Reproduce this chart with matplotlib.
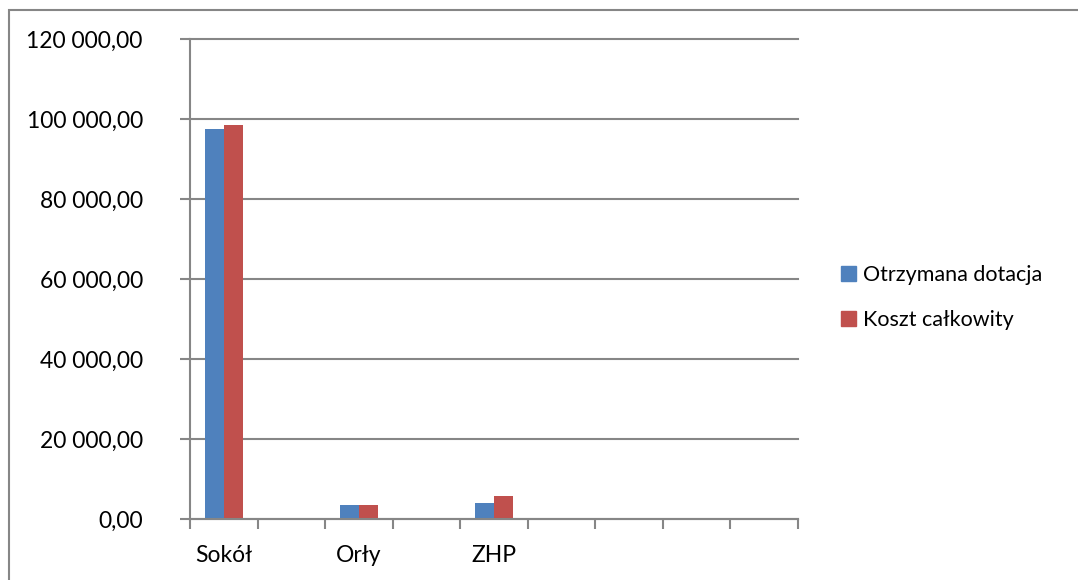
import numpy as np
import matplotlib
matplotlib.use("Agg")
import matplotlib.pyplot as plt
from matplotlib.patches import Rectangle, Patch

# data
categories = ["Sokół", "", "Orły", "", "ZHP", "", "", "", ""]
dotacja = [97600, 0, 3500, 0, 4000, 0, 0, 0, 0]
koszt = [98600, 0, 3500, 0, 5750, 0, 0, 0, 0]
series_names = ["Otrzymana dotacja", "Koszt całkowity"]
yticks = [0, 20000, 40000, 60000, 80000, 100000, 120000]

blue = "#4F81BD"
red = "#C0504D"
grey = "#868686"

plt.rcParams['font.family'] = ['Lato', 'DejaVu Sans']

fig = plt.figure(figsize=(10.78, 5.8), dpi=100)
ax = fig.add_axes([190 / 1078, 61 / 580, 607.5 / 1078, 479.5 / 580])

x = np.arange(len(categories))
w = 0.28
ax.bar(x - w / 2, dotacja, width=w, color=blue, label=series_names[0])
ax.bar(x + w / 2, koszt, width=w, color=red, label=series_names[1])

ax.set_xlim(-0.5, len(categories) - 0.5)
ax.set_ylim(0, 120000)
ax.set_yticks(yticks)
ax.set_yticklabels([f"{v:,.2f}".replace(",", " ").replace(".", ",") for v in yticks])
ax.set_xticks(x)
ax.set_xticklabels(categories)
ax.set_xticks(np.arange(len(categories) + 1) - 0.5, minor=True)
ax.tick_params(axis='x', which='major', length=0, pad=19, labelsize=16.5)
ax.tick_params(axis='x', which='minor', length=7, width=1.5, color=grey)
ax.tick_params(axis='y', length=7, width=1.5, color=grey, pad=27, labelsize=16.5)

ax.grid(axis='y', color=grey, linewidth=1.5)
for gl in ax.get_ygridlines():
    gl.set_clip_on(False)
ax.set_axisbelow(True)
for side in ['top', 'right']:
    ax.spines[side].set_visible(False)
for side in ['left', 'bottom']:
    ax.spines[side].set_color(grey)
    ax.spines[side].set_linewidth(1.5)

handles = [Patch(color=blue), Patch(color=red)]
fig.legend(handles, series_names, loc='upper left',
           bbox_to_anchor=(822 / 1078, 1 - 246 / 580), frameon=False,
           fontsize=15.5, handlelength=0.7, handleheight=0.7,
           handletextpad=0.3, labelspacing=1.15)

# outer chart frame
fig.patches.append(Rectangle((9 / 1078, -0.1), 1.2, 1 - 10 / 580 + 0.1,
                             transform=fig.transFigure, fill=False,
                             edgecolor=grey, linewidth=1.5))

fig.savefig("out.png", dpi=100)
